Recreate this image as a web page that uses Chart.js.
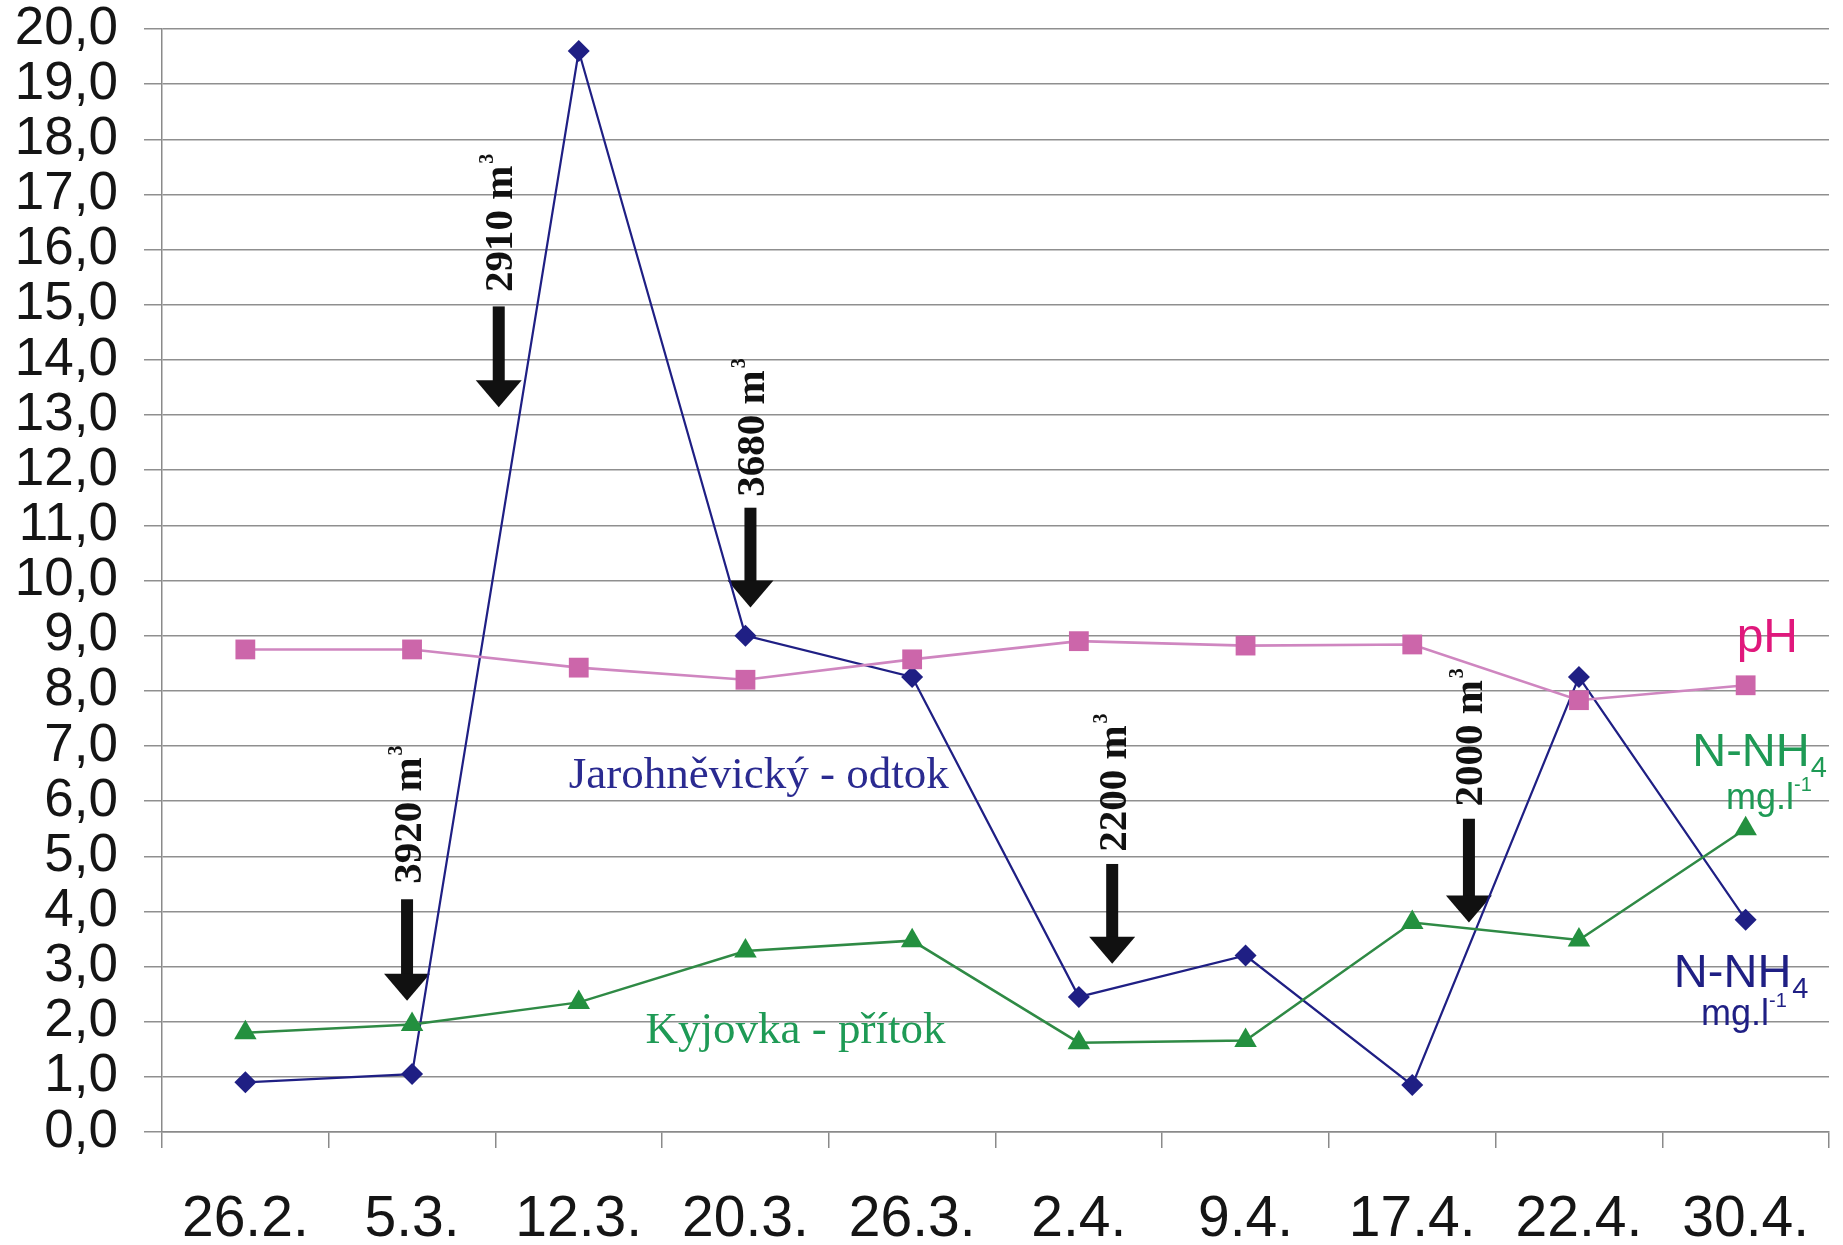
<!DOCTYPE html>
<html>
<head>
<meta charset="utf-8">
<script src="https://cdn.jsdelivr.net/npm/chart.js@4/dist/chart.umd.min.js"></script>
<style>
  html, body { margin: 0; padding: 0; background: #ffffff; }
  #wrap { width: 1843px; height: 1245px; }
</style>
</head>
<body>
<div id="wrap"><canvas id="c" width="1843" height="1245"></canvas></div>
<script>
// Sampling dates
const dates = ['26.2.', '5.3.', '12.3.', '20.3.', '26.3.', '2.4.', '9.4.', '17.4.', '22.4.', '30.4.'];

// N-NH4 (mg/l) at the outflow of Jarohněvický pond
const nh4Outflow = [0.9, 1.05, 19.6, 9.0, 8.25, 2.45, 3.2, 0.85, 8.25, 3.85];
// pH at the outflow
const phValues = [8.75, 8.75, 8.42, 8.2, 8.57, 8.9, 8.82, 8.84, 7.83, 8.1];
// N-NH4 (mg/l) in the Kyjovka inflow
const nh4Inflow = [1.8, 1.95, 2.35, 3.28, 3.47, 1.62, 1.66, 3.8, 3.48, 5.5];

// Y axis ticks
const yMin = 0;
const yMax = 20;
const yStep = 1;

// Inflow volumes (m3) marked with arrows: category position and value range
const inflowVolumes = ['3920', '2910', '3680', '2200', '2000'];
const inflowAt = [0.97, 1.52, 3.03, 5.2, 7.34];
const inflowTextFrom = [4.5, 15.23, 11.52, 5.08, 5.9];
const inflowShaftTop = [4.22, 14.97, 11.32, 4.86, 5.68];
const inflowTip = [2.38, 13.14, 9.51, 3.05, 3.8];

const NAVY = '#1f1f84';
const PINK = '#cc66aa';
const GREEN = '#23903f';

const annotationPlugin = {
  id: 'pondAnnotations',
  beforeDatasetsDraw(chart) {
    const ctx = chart.ctx;
    const xs = chart.scales.x, ys = chart.scales.y;
    ctx.save();
    for (let i = 0; i < inflowVolumes.length; i++) {
      const ax = xs.getPixelForValue(inflowAt[i]);
      const yTop = ys.getPixelForValue(inflowShaftTop[i]);
      const yTip = ys.getPixelForValue(inflowTip[i]);
      const headLen = 27, headHalf = 23, shaftHalf = 6;
      ctx.fillStyle = '#111111';
      ctx.fillRect(ax - shaftHalf, yTop, shaftHalf * 2, yTip - headLen - yTop + 1);
      ctx.beginPath();
      ctx.moveTo(ax - headHalf, yTip - headLen);
      ctx.lineTo(ax + headHalf, yTip - headLen);
      ctx.lineTo(ax, yTip);
      ctx.closePath();
      ctx.fill();

      // rotated volume label
      const yText = ys.getPixelForValue(inflowTextFrom[i]);
      ctx.save();
      ctx.translate(ax + 13.5, yText);
      ctx.rotate(-Math.PI / 2);
      ctx.textAlign = 'left';
      ctx.textBaseline = 'alphabetic';
      ctx.font = 'bold 41px "Liberation Serif", "Times New Roman", serif';
      const main = inflowVolumes[i] + ' m';
      ctx.fillText(main, 0, 0);
      const w = ctx.measureText(main).width;
      ctx.font = 'bold 20px "Liberation Serif", "Times New Roman", serif';
      ctx.fillText('3', w + 2, -19);
      ctx.restore();
    }
    ctx.restore();
  },
  afterDatasetsDraw(chart) {
    const ctx = chart.ctx;
    const xs = chart.scales.x, ys = chart.scales.y;
    const px = v => xs.getPixelForValue(v);
    const py = v => ys.getPixelForValue(v);
    ctx.save();
    ctx.textBaseline = 'middle';
    ctx.textAlign = 'center';

    // series names
    ctx.font = '45px "Liberation Serif", "Times New Roman", serif';
    ctx.fillStyle = '#2a2a90';
    ctx.fillText('Jarohněvický - odtok', px(3.08), py(6.45));
    ctx.fillStyle = '#1e9a55';
    ctx.fillText('Kyjovka - přítok', px(3.3), py(1.83));

    // right-hand labels
    const sans = '"Liberation Sans", Arial, sans-serif';
    ctx.fillStyle = '#e0187c';
    ctx.font = '48px ' + sans;
    ctx.fillText('pH', px(9.13), py(8.95));

    function nh4(color, cx, cy, unitX, unitY) {
      ctx.fillStyle = color;
      ctx.textAlign = 'left';
      ctx.textBaseline = 'alphabetic';
      ctx.font = '47px ' + sans;
      const t = 'N-NH';
      const w = ctx.measureText(t).width;
      ctx.font = '29px ' + sans;
      const w4 = ctx.measureText('4').width;
      const x0 = cx - (w + w4) / 2;
      ctx.font = '47px ' + sans;
      ctx.fillText(t, x0, cy + 17);
      ctx.font = '29px ' + sans;
      ctx.fillText('4', x0 + w + 1, cy + 28);
      // unit
      ctx.font = '36px ' + sans;
      const u = 'mg.l';
      const wu = ctx.measureText(u).width;
      ctx.font = '20px ' + sans;
      const ws = ctx.measureText('-1').width;
      const ux = unitX - (wu + ws) / 2;
      ctx.font = '36px ' + sans;
      ctx.fillText(u, ux, unitY + 12);
      ctx.font = '20px ' + sans;
      ctx.fillText('-1', ux + wu, unitY - 6);
    }
    nh4('#1e9a55', px(9.08), py(6.95), px(9.14), py(6.08));
    nh4(NAVY, px(8.97), py(2.94), px(8.99), py(2.16));
    ctx.restore();
  }
};

const chart = new Chart(document.getElementById('c'), {
  type: 'line',
  data: {
    labels: dates,
    datasets: [
      {
        label: 'pH',
        data: phValues,
        borderColor: '#cf86c0',
        borderWidth: 2.6,
        pointStyle: 'rect',
        pointRadius: 14,
        pointBackgroundColor: PINK,
        pointBorderColor: PINK,
        pointBorderWidth: 0,
        tension: 0
      },
      {
        label: 'Kyjovka - přítok',
        data: nh4Inflow,
        borderColor: '#2f8a45',
        borderWidth: 2.5,
        pointStyle: 'triangle',
        pointRadius: 13,
        pointBackgroundColor: GREEN,
        pointBorderColor: GREEN,
        pointBorderWidth: 0,
        tension: 0
      },
      {
        label: 'Jarohněvický - odtok',
        data: nh4Outflow,
        borderColor: NAVY,
        borderWidth: 2.2,
        pointStyle: 'rectRot',
        pointRadius: 11,
        pointBackgroundColor: NAVY,
        pointBorderColor: NAVY,
        pointBorderWidth: 0,
        tension: 0
      }
    ]
  },
  options: {
    responsive: false,
    animation: false,
    devicePixelRatio: 1,
    layout: { padding: { top: 29, right: 6, left: 0, bottom: 0 } },
    plugins: {
      legend: { display: false },
      tooltip: { enabled: false }
    },
    scales: {
      x: {
        offset: true,
        grid: {
          offset: true,
          drawOnChartArea: false,
          drawTicks: true,
          tickLength: 16,
          color: '#8a8a8a',
          lineWidth: 1.5
        },
        border: { color: '#8a8a8a', width: 1.5 },
        ticks: {
          color: '#151515',
          padding: 44,
          maxRotation: 0,
          autoSkip: false,
          font: { family: '"Liberation Sans", Arial, sans-serif', size: 57, lineHeight: 1.0 }
        },
        afterFit(scale) {
          scale.height = 113;
          scale.paddingLeft = 0;
          scale.paddingRight = 0;
        }
      },
      y: {
        min: yMin,
        max: yMax,
        grid: {
          color: '#8f8f8f',
          lineWidth: 1.5,
          tickLength: 18
        },
        border: { color: '#8a8a8a', width: 1.5 },
        ticks: {
          stepSize: yStep,
          autoSkip: false,
          color: '#151515',
          padding: 26,
          font: { family: '"Liberation Sans", Arial, sans-serif', size: 53, lineHeight: 1.0 },
          callback: v => v.toFixed(1).replace('.', ',')
        },
        afterFit(scale) {
          scale.width = 162;
          scale.paddingTop = 0;
          scale.paddingBottom = 0;
        }
      }
    }
  },
  plugins: [annotationPlugin]
});
</script>
</body>
</html>
